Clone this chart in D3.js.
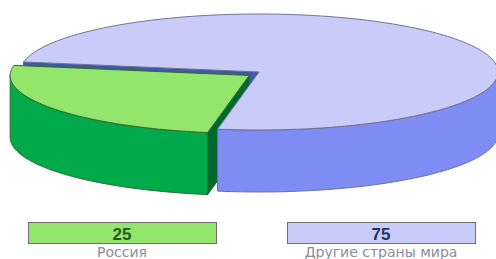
<!DOCTYPE html>
<html>
<head>
<meta charset="utf-8">
<script src="https://cdn.jsdelivr.net/npm/d3@7"></script>
<style>
  html, body { margin: 0; padding: 0; background: #fff; }
  svg { display: block; }
</style>
</head>
<body>
<svg id="root" width="496" height="259"></svg>
<script>
(function () {
  // data
  let categories = ["Россия", "Другие страны мира"];
  let values = [25, 75];
  let valueLabels = ["25", "75"];

  let topColors = ["#93e56b", "#c9cbf8"];
  let sideColors = ["#00aa4b", "#7e8cf4"];
  let cutColors = ["#006a2e", "#3e5a9f"];
  let strokeColors = ["#2f6b2f", "#6d7392"];
  let numberColors = ["#1f5a1f", "#2b2f5c"];

  let svg = d3.select("#root");

  let cx = 259, cy = 72, rx = 239, ry = 58, depth = 62;
  let deg = Math.PI / 180;

  // unit circle -> screen
  let xScale = d3.scaleLinear().domain([-1, 1]).range([cx - rx, cx + rx]);
  let yScale = d3.scaleLinear().domain([-1, 1]).range([cy - ry, cy + ry]);

  let pie = d3.pie().sort(null).startAngle(190 * deg).endAngle(550 * deg);
  let arcs = pie(values);

  function pt(a, dx, dy, dz) {
    return [xScale(Math.sin(a)) + dx, yScale(-Math.cos(a)) + dy + dz];
  }

  function arcPts(a0, a1, dx, dy, dz) {
    let n = Math.max(2, Math.ceil(Math.abs(a1 - a0) / (1 * deg)));
    return d3.range(n + 1).map(i => pt(a0 + (a1 - a0) * i / n, dx, dy, dz));
  }

  let line = d3.line();

  function offsetOf(d, i) {
    if (i !== 0) return [0, 0];
    let mid = (d.startAngle + d.endAngle) / 2;
    return [Math.sin(mid) * 12, -Math.cos(mid) * 6];
  }

  // visible outer wall: front half is d3 angle 90..270 (mod 360)
  function wallPath(d, off) {
    let segs = [];
    for (let k = 0; k < 2; k++) {
      let lo = Math.max(d.startAngle, 90 * deg + k * 360 * deg);
      let hi = Math.min(d.endAngle, 270 * deg + k * 360 * deg);
      if (hi > lo) segs.push([lo, hi]);
    }
    return segs.map(s => {
      let top = arcPts(s[0], s[1], off[0], off[1], 0);
      let bot = arcPts(s[1], s[0], off[0], off[1], depth);
      return line(top.concat(bot)) + "Z";
    }).join(" ");
  }

  function cutPath(a, off) {
    let c = [cx + off[0], cy + off[1]];
    let p = pt(a, off[0], off[1], 0);
    return line([c, p, [p[0], p[1] + depth], [c[0], c[1] + depth]]) + "Z";
  }

  function topPath(d, off) {
    let c = [cx + off[0], cy + off[1]];
    return line([c].concat(arcPts(d.startAngle, d.endAngle, off[0], off[1], 0))) + "Z";
  }

  let g = svg.append("g");
  let big = arcs[1], small = arcs[0];
  let offBig = offsetOf(big, 1), offSmall = offsetOf(small, 0);

  // cut face of the big slice on its left edge (mostly hidden by the green slice)
  g.append("path")
    .attr("d", cutPath(big.startAngle, offBig))
    .attr("fill", cutColors[1])
    .attr("stroke", cutColors[1])
    .attr("stroke-width", 1);

  // exploded green slice
  g.append("path")
    .attr("d", wallPath(small, offSmall))
    .attr("fill", sideColors[0])
    .attr("stroke", strokeColors[0])
    .attr("stroke-width", 1)
    .attr("stroke-linejoin", "round");

  g.append("path")
    .attr("d", cutPath(small.startAngle, offSmall))
    .attr("fill", cutColors[0])
    .attr("stroke", strokeColors[0])
    .attr("stroke-width", 1);

  g.append("path")
    .attr("d", topPath(small, offSmall))
    .attr("fill", topColors[0])
    .attr("stroke", strokeColors[0])
    .attr("stroke-width", 1)
    .attr("stroke-linejoin", "round");

  // big slice on top
  g.append("path")
    .attr("d", wallPath(big, offBig))
    .attr("fill", sideColors[1])
    .attr("stroke", strokeColors[1])
    .attr("stroke-width", 1)
    .attr("stroke-linejoin", "round");

  g.append("path")
    .attr("d", topPath(big, offBig))
    .attr("fill", topColors[1])
    .attr("stroke", strokeColors[1])
    .attr("stroke-width", 1)
    .attr("stroke-linejoin", "round");

  // legend
  let legendX = d3.scalePoint().domain(categories).range([122, 381]);
  let boxW = 188, boxH = 21, boxY = 222;

  let lg = svg.append("g").selectAll("g")
    .data(categories)
    .enter().append("g");

  lg.append("rect")
    .attr("x", d => legendX(d) - boxW / 2 + 0.5)
    .attr("y", boxY + 0.5)
    .attr("width", boxW)
    .attr("height", boxH)
    .attr("fill", (d, i) => topColors[i])
    .attr("stroke", "#6f6f6f")
    .attr("stroke-width", 1);

  lg.append("text")
    .attr("x", d => legendX(d))
    .attr("y", boxY + 18)
    .attr("text-anchor", "middle")
    .style("font-family", "'Liberation Sans', Arial, sans-serif")
    .style("font-weight", "bold")
    .style("font-size", "17px")
    .style("fill", (d, i) => numberColors[i])
    .text((d, i) => valueLabels[i]);

  lg.append("text")
    .attr("x", d => legendX(d))
    .attr("y", 257)
    .attr("text-anchor", "middle")
    .style("font-family", "'DejaVu Sans', sans-serif")
    .style("font-size", "14px")
    .style("fill", "#8a8c9c")
    .text(d => d);
})();
</script>
</body>
</html>
